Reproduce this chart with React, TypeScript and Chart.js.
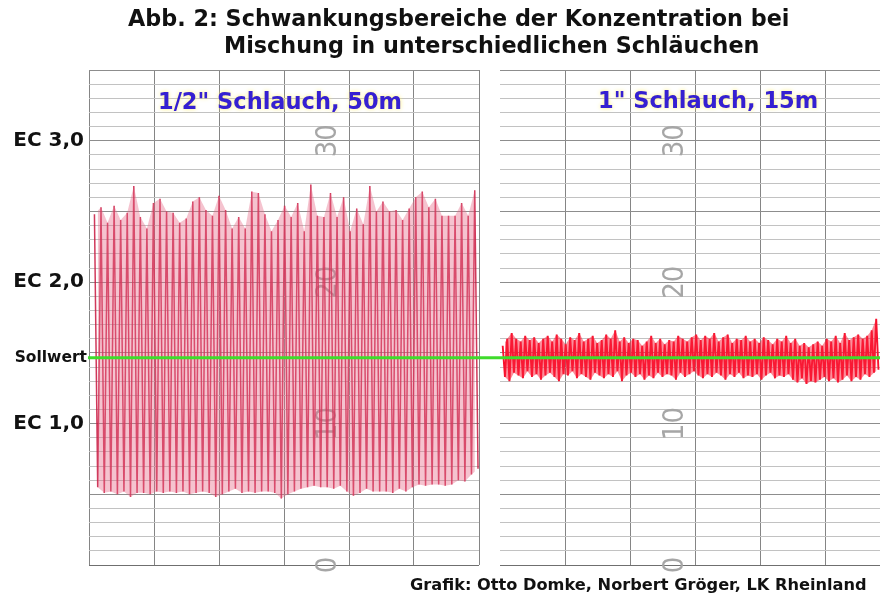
import React, { useEffect, useRef } from "react";
import { Chart, registerables } from "chart.js";
Chart.register(...registerables);

// ---------- texts ----------
const TITLE_LINES = [
  "Abb. 2: Schwankungsbereiche der Konzentration bei",
  "Mischung in unterschiedlichen Schläuchen",
];
const PANEL_TITLES = ['1/2" Schlauch, 50m', '1" Schlauch, 15m'];
const FOOTER = "Grafik: Otto Domke, Norbert Gröger, LK Rheinland";

// ---------- y axis (EC) ----------
const EC_TICKS = [1, 2, 3];
const EC_LABELS = ["EC 1,0", "EC 2,0", "EC 3,0"];
const SOLLWERT = 1.465;
const SOLLWERT_LABEL = "Sollwert";
const PAPER_MARKS = [0, 1, 2, 3];
const PAPER_LABELS = ["0", "10", "20", "30"];

// ---------- series (EC values of each swing) ----------
const LEFT_PEAKS = [
  2.48, 2.53, 2.42, 2.54, 2.44, 2.49, 2.68, 2.46, 2.38, 2.56,
  2.59, 2.5, 2.49, 2.42, 2.45, 2.57, 2.6, 2.51, 2.47, 2.61,
  2.51, 2.38, 2.46, 2.38, 2.64, 2.63, 2.48, 2.36, 2.44, 2.54,
  2.46, 2.56, 2.36, 2.69, 2.47, 2.46, 2.63, 2.46, 2.6, 2.36,
  2.52, 2.41, 2.68, 2.5, 2.57, 2.5, 2.51, 2.44, 2.52, 2.6,
  2.64, 2.53, 2.59, 2.47, 2.47, 2.47, 2.56, 2.47, 2.65,
];
const LEFT_TROUGHS = [
  0.55, 0.51, 0.52, 0.5, 0.52, 0.48, 0.51, 0.51, 0.5, 0.52,
  0.51, 0.52, 0.51, 0.52, 0.5, 0.51, 0.52, 0.51, 0.48, 0.5,
  0.52, 0.54, 0.51, 0.52, 0.51, 0.52, 0.52, 0.51, 0.47, 0.5,
  0.52, 0.54, 0.55, 0.56, 0.55, 0.55, 0.54, 0.56, 0.52, 0.49,
  0.51, 0.54, 0.52, 0.52, 0.52, 0.51, 0.54, 0.52, 0.55, 0.57,
  0.56, 0.57, 0.57, 0.56, 0.57, 0.6, 0.59, 0.64, 0.68,
];
const RIGHT_PEAKS = [
  1.55, 1.6, 1.64, 1.6, 1.58, 1.62, 1.59, 1.61, 1.57, 1.6,
  1.62, 1.58, 1.63, 1.6, 1.56, 1.61, 1.59, 1.64, 1.58, 1.6,
  1.62, 1.57, 1.59, 1.63, 1.6, 1.66, 1.58, 1.61, 1.57, 1.6,
  1.59, 1.55, 1.58, 1.62, 1.57, 1.6, 1.56, 1.59, 1.58, 1.62,
  1.6, 1.58, 1.61, 1.63, 1.59, 1.62, 1.6, 1.64, 1.58, 1.61,
  1.63, 1.57, 1.6, 1.59, 1.62, 1.58, 1.6, 1.57, 1.61, 1.59,
  1.56, 1.6, 1.58, 1.62, 1.57, 1.6, 1.55, 1.57, 1.54, 1.56,
  1.58, 1.55, 1.6, 1.58, 1.62, 1.57, 1.64, 1.59, 1.61, 1.63,
  1.6, 1.62, 1.66, 1.74,
];
const RIGHT_TROUGHS = [
  1.33, 1.3, 1.36, 1.34, 1.32, 1.37, 1.33, 1.35, 1.31, 1.34,
  1.36, 1.33, 1.3, 1.35, 1.34, 1.37, 1.32, 1.35, 1.33, 1.31,
  1.36, 1.34, 1.32, 1.35, 1.33, 1.37, 1.3, 1.34, 1.36, 1.33,
  1.35, 1.31, 1.34, 1.32, 1.36, 1.33, 1.35, 1.34, 1.31, 1.36,
  1.33, 1.35, 1.37, 1.34, 1.32, 1.35, 1.33, 1.36, 1.34, 1.31,
  1.35, 1.33, 1.36, 1.32, 1.34, 1.33, 1.35, 1.31, 1.34, 1.36,
  1.32, 1.34, 1.33, 1.35, 1.31, 1.29, 1.32, 1.28, 1.3, 1.29,
  1.31, 1.33, 1.3, 1.32, 1.29, 1.31, 1.34, 1.3, 1.33, 1.31,
  1.35, 1.33, 1.36, 1.38,
];

const FONT = "'DejaVu Sans', Verdana, sans-serif";
const PAPER_FONT = "'Liberation Sans Narrow', 'DejaVu Sans Condensed', sans-serif";

function trace(peaks: number[], troughs: number[]) {
  const pts: { x: number; y: number }[] = [];
  const n = Math.min(peaks.length, troughs.length);
  for (let i = 0; i < n; i++) {
    pts.push({ x: i, y: peaks[i] });
    pts.push({ x: i + 0.5, y: troughs[i] });
  }
  return pts;
}
function envelope(vals: number[], offset: number) {
  return vals.map((v, i) => ({ x: i + offset, y: v }));
}

function yGridColor(ctx: any) {
  const k = Math.round(ctx.tick.value * 10);
  if (k === 0) return "#6f6f6f";
  return k % 5 === 0 ? "#8d8d8d" : "#c2c2c2";
}
function yTicks(s: any) {
  const t: any[] = [];
  for (let k = 0; k <= 35; k++) t.push({ value: k / 10 });
  s.ticks = t;
}

function drawPaperMarks(chart: any, offset: number) {
  const { ctx, chartArea, scales } = chart;
  ctx.save();
  ctx.fillStyle = "#a6a6a6";
  ctx.font = `29px ${PAPER_FONT}`;
  ctx.textAlign = "center";
  ctx.textBaseline = "middle";
  PAPER_MARKS.forEach((m, i) => {
    const y = scales.y.getPixelForValue(m);
    ctx.save();
    ctx.translate(chartArea.left + offset, y);
    ctx.rotate(-Math.PI / 2);
    ctx.fillText(PAPER_LABELS[i], 0, 0);
    ctx.restore();
  });
  ctx.restore();
}

function panelTitle(ctx: any, text: string, x: number, y: number) {
  ctx.save();
  ctx.font = `bold 22.5px ${FONT}`;
  ctx.textAlign = "left";
  ctx.textBaseline = "middle";
  ctx.shadowColor = "rgba(255,240,110,0.95)";
  ctx.shadowBlur = 4;
  ctx.fillStyle = "#3520d2";
  ctx.fillText(text, x, y);
  ctx.restore();
}

const leftDecor = {
  id: "leftDecor",
  beforeDatasetsDraw(chart: any) {
    drawPaperMarks(chart, 239);
  },
  afterDraw(chart: any) {
    const { ctx, chartArea, scales } = chart;
    ctx.save();
    ctx.fillStyle = "#111";
    ctx.font = `bold 22.3px ${FONT}`;
    ctx.textBaseline = "middle";
    ctx.textAlign = "left";
    ctx.fillText(TITLE_LINES[0], 128, 20);
    ctx.fillText(TITLE_LINES[1], 224, 47);
    ctx.font = `bold 16.2px ${FONT}`;
    ctx.fillText(FOOTER, 410, 586);
    ctx.textAlign = "right";
    ctx.font = `bold 15.5px ${FONT}`;
    ctx.fillText(SOLLWERT_LABEL, chartArea.left - 2, scales.y.getPixelForValue(SOLLWERT));
    ctx.restore();
    panelTitle(ctx, PANEL_TITLES[0], chartArea.left + 69, 103);
  },
};

const rightDecor = {
  id: "rightDecor",
  beforeDatasetsDraw(chart: any) {
    drawPaperMarks(chart, 175);
  },
  afterDraw(chart: any) {
    const { ctx, chartArea, scales } = chart;
    const y = scales.y.getPixelForValue(SOLLWERT);
    ctx.save();
    ctx.strokeStyle = "#3fdc2c";
    ctx.lineWidth = 3;
    ctx.beginPath();
    ctx.moveTo(88, y);
    ctx.lineTo(chartArea.right, y);
    ctx.stroke();
    ctx.restore();
    panelTitle(ctx, PANEL_TITLES[1], chartArea.left + 98, 102);
  },
};

export default function App() {
  const leftRef = useRef<HTMLCanvasElement>(null);
  const rightRef = useRef<HTMLCanvasElement>(null);

  useEffect(() => {
    const leftMin = -0.83;
    const leftMax = 58.65;
    const left = new Chart(leftRef.current!, {
      type: "line",
      data: {
        datasets: [
          { data: envelope(LEFT_PEAKS, 0), borderWidth: 0, pointRadius: 0, fill: false },
          {
            data: envelope(LEFT_TROUGHS, 0.5),
            borderWidth: 0,
            pointRadius: 0,
            fill: "-1",
            backgroundColor: "rgba(230,105,135,0.4)",
          },
          {
            data: trace(LEFT_PEAKS, LEFT_TROUGHS),
            borderColor: "rgba(200,22,62,0.85)",
            borderWidth: 1.5,
            pointRadius: 0,
            fill: false,
            tension: 0,
          },
        ],
      },
      options: {
        responsive: false,
        animation: false,
        events: [],
        layout: { padding: { left: 0, right: 401, top: 70, bottom: 30 } },
        plugins: { legend: { display: false }, tooltip: { enabled: false } },
        scales: {
          x: {
            type: "linear",
            min: leftMin,
            max: leftMax,
            afterBuildTicks: (s: any) => {
              const t: any[] = [];
              for (let k = 0; k <= 6; k++) t.push({ value: leftMin + (k * (leftMax - leftMin)) / 6 });
              s.ticks = t;
            },
            ticks: { display: false },
            grid: { color: "#858585", drawTicks: false, lineWidth: 1 },
            border: { display: false },
            afterFit: (s: any) => {
              s.height = 0;
            },
          },
          y: {
            type: "linear",
            min: 0,
            max: 3.5,
            afterBuildTicks: yTicks,
            ticks: {
              autoSkip: false,
              padding: 5,
              color: "#111",
              font: { family: FONT, size: 20, weight: "bold" },
              callback: (v: any) => {
                const idx = EC_TICKS.findIndex((e) => Math.abs(e - v) < 1e-6);
                return idx >= 0 ? EC_LABELS[idx] : "";
              },
            },
            grid: { color: yGridColor, drawTicks: false, lineWidth: 1 },
            border: { display: false },
            afterFit: (s: any) => {
              s.width = 89;
            },
          },
        },
      } as any,
      plugins: [leftDecor],
    });

    const pxPerUnit = 4.5;
    const rightMin = -0.6;
    const rightMax = rightMin + 380 / pxPerUnit;
    const rightStep = 65 / pxPerUnit;
    const right = new Chart(rightRef.current!, {
      type: "line",
      data: {
        datasets: [
          { data: envelope(RIGHT_PEAKS, 0), borderWidth: 0, pointRadius: 0, fill: false },
          {
            data: envelope(RIGHT_TROUGHS, 0.5),
            borderWidth: 0,
            pointRadius: 0,
            fill: "-1",
            backgroundColor: "rgba(250,30,55,0.5)",
          },
          {
            data: trace(RIGHT_PEAKS, RIGHT_TROUGHS),
            borderColor: "#f8122e",
            borderWidth: 1.9,
            pointRadius: 0,
            fill: false,
            tension: 0,
          },
        ],
      },
      options: {
        responsive: false,
        animation: false,
        events: [],
        layout: { padding: { left: 500, right: 0, top: 70, bottom: 30 } },
        plugins: { legend: { display: false }, tooltip: { enabled: false } },
        scales: {
          x: {
            type: "linear",
            min: rightMin,
            max: rightMax,
            afterBuildTicks: (s: any) => {
              const t: any[] = [];
              for (let k = 0; rightMin + k * rightStep <= rightMax; k++) t.push({ value: rightMin + k * rightStep });
              s.ticks = t;
            },
            ticks: { display: false },
            grid: {
              color: (ctx: any) => (ctx.index === 0 ? "rgba(0,0,0,0)" : "#858585"),
              drawTicks: false,
              lineWidth: 1,
            },
            border: { display: false },
            afterFit: (s: any) => {
              s.height = 0;
            },
          },
          y: {
            type: "linear",
            min: 0,
            max: 3.5,
            afterBuildTicks: yTicks,
            ticks: { display: false, autoSkip: false },
            grid: { color: yGridColor, drawTicks: false, lineWidth: 1 },
            border: { display: false },
            afterFit: (s: any) => {
              s.width = 0;
            },
          },
        },
      } as any,
      plugins: [rightDecor],
    });

    return () => {
      left.destroy();
      right.destroy();
    };
  }, []);

  const cs: React.CSSProperties = { position: "absolute", left: 0, top: 0, width: 880, height: 595 };
  return (
    <div style={{ position: "fixed", left: 0, top: 0, width: 880, height: 595, background: "#fff", overflow: "hidden" }}>
      <canvas ref={leftRef} width={880} height={595} style={cs} />
      <canvas ref={rightRef} width={880} height={595} style={cs} />
    </div>
  );
}
